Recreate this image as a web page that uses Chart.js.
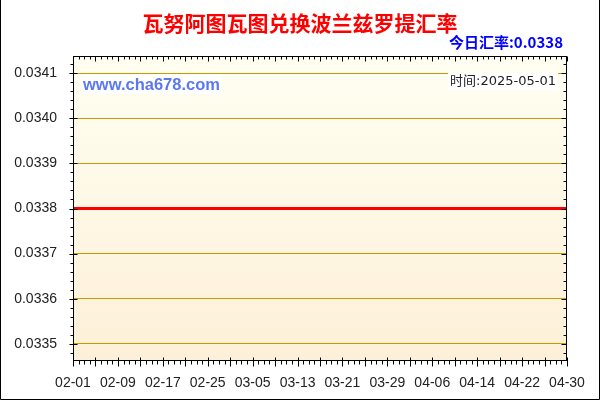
<!DOCTYPE html>
<html>
<head>
<meta charset="utf-8">
<script src="https://cdn.jsdelivr.net/npm/chart.js@4.4.1/dist/chart.umd.min.js"></script>
<style>
  html, body { margin: 0; padding: 0; background: #fff; }
</style>
</head>
<body>
<canvas id="myChart" width="600" height="400"></canvas>
<script>
// texte
const titleText = '瓦努阿图瓦图兑换波兰兹罗提汇率';
const todayText = '今日汇率:0.0338';
const siteText = 'www.cha678.com';
const timeText = '时间:2025-05-01';

// data
const dates = ['02-01', '02-09', '02-17', '02-25', '03-05', '03-13', '03-21', '03-29', '04-06', '04-14', '04-22', '04-30'];
const rates = [0.0338, 0.0338, 0.0338, 0.0338, 0.0338, 0.0338, 0.0338, 0.0338, 0.0338, 0.0338, 0.0338, 0.0338];
const yTicks = [0.0335, 0.0336, 0.0337, 0.0338, 0.0339, 0.0340, 0.0341];
const yMin = 0.033462;
const yMax = 0.034138;
const daysPerLabel = 8;

const ctx = document.getElementById('myChart');

// bakgrund, ramar, små ticks och texter
const frame = {
  id: 'frame',
  beforeDraw(chart) {
    const c = chart.ctx, a = chart.chartArea;
    c.save();
    c.fillStyle = '#fff';
    c.fillRect(0, 0, chart.width, chart.height);
    const g = c.createLinearGradient(0, a.top, 0, a.bottom);
    g.addColorStop(0, '#fffff2');
    g.addColorStop(1, '#fdf0d8');
    c.fillStyle = g;
    c.fillRect(a.left, a.top, a.right - a.left, a.bottom - a.top);
    c.restore();
  },
  afterDraw(chart) {
    const c = chart.ctx, a = chart.chartArea;
    const x = chart.scales.x, y = chart.scales.y;
    c.save();
    c.strokeStyle = '#000';
    c.lineWidth = 1;

    // yttre ram
    c.beginPath();
    c.moveTo(0.5, 0);
    c.lineTo(0.5, chart.height - 0.5);
    c.lineTo(chart.width - 0.5, chart.height - 0.5);
    c.lineTo(chart.width - 0.5, 0);
    c.stroke();

    const L = Math.round(a.left) + 0.5, R = Math.round(a.right) - 0.5;
    const T = Math.round(a.top) + 0.5, B = Math.round(a.bottom) - 0.5;
    c.strokeRect(L, T, R - L, B - T);

    // x ticks, en per dag
    c.beginPath();
    for (let i = 0; i < dates.length; i++) {
      const p0 = x.getPixelForValue(i);
      const last = i === dates.length - 1;
      const p1 = last ? p0 : x.getPixelForValue(i + 1);
      const steps = last ? 1 : daysPerLabel;
      for (let k = 0; k < steps; k++) {
        const px = Math.round(p0 + (p1 - p0) * k / daysPerLabel) + 0.5;
        const major = k % 4 === 0;
        c.moveTo(px, B + (major ? -3 : 0));
        c.lineTo(px, B + (major ? 6 : 4));
        c.moveTo(px, T);
        c.lineTo(px, T + (major ? 5 : 3));
      }
    }
    // y ticks
    for (let n = Math.ceil(yMin * 50000); n <= Math.floor(yMax * 50000); n++) {
      const py = Math.round(y.getPixelForValue(n / 50000)) + 0.5;
      const major = n % 5 === 0;
      c.moveTo(L - (major ? 4 : 3), py);
      c.lineTo(L + (major ? 4 : 0), py);
      c.moveTo(R - (major ? 5 : 3), py);
      c.lineTo(R, py);
    }
    c.stroke();

    // titel
    c.textBaseline = 'middle';
    c.textAlign = 'center';
    c.fillStyle = '#ff0000';
    c.font = "bold 21px 'Noto Sans CJK SC'";
    c.fillText(titleText, 300, 23);

    c.textAlign = 'right';
    c.fillStyle = '#0000ff';
    c.font = "bold 15px 'Noto Sans CJK SC'";
    c.fillText(todayText, 563, 42);

    // webbadress med vit ruta
    c.textAlign = 'left';
    c.font = "bold 16.5px 'Liberation Sans', Arial";
    let w = c.measureText(siteText).width;
    c.fillStyle = '#ffffff';
    c.fillRect(81, 75, w + 4, 19);
    c.fillStyle = '#5a78f0';
    c.fillText(siteText, 83, 85);

    c.textAlign = 'right';
    c.font = "13px 'DejaVu Sans', 'Noto Sans CJK SC'";
    w = c.measureText(timeText).width;
    c.fillStyle = '#ffffff';
    c.fillRect(556 - w - 2, 73, w + 4, 17);
    c.fillStyle = '#222';
    c.fillText(timeText, 556, 82);
    c.restore();
  }
};

new Chart(ctx, {
  type: 'line',
  data: {
    labels: dates,
    datasets: [
      {
        label: '汇率',
        data: rates,
        borderColor: '#ff0000',
        borderWidth: 3,
        pointRadius: 0,
        fill: false,
        tension: 0
      }
    ]
  },
  options: {
    responsive: false,
    animation: false,
    layout: { padding: { top: 56, right: 33, left: 0, bottom: 0 } },
    plugins: {
      legend: { display: false },
      tooltip: { enabled: false }
    },
    scales: {
      x: {
        offset: false,
        grid: { display: false },
        border: { display: false },
        ticks: {
          color: '#222',
          font: { family: "'Liberation Sans', Arial", size: 14 },
          padding: 6,
          maxRotation: 0,
          autoSkip: false
        },
        afterFit(s) { s.height = 39; }
      },
      y: {
        min: yMin,
        max: yMax,
        afterBuildTicks(s) { s.ticks = yTicks.map(v => ({ value: v })); },
        grid: { color: '#cc9900', lineWidth: 1, drawTicks: false },
        border: { display: false },
        ticks: {
          color: '#222',
          font: { family: "'Liberation Sans', Arial", size: 14 },
          padding: 16,
          callback: v => v.toFixed(4)
        },
        afterFit(s) { s.width = 73; }
      }
    }
  },
  plugins: [frame]
});
</script>
</body>
</html>
